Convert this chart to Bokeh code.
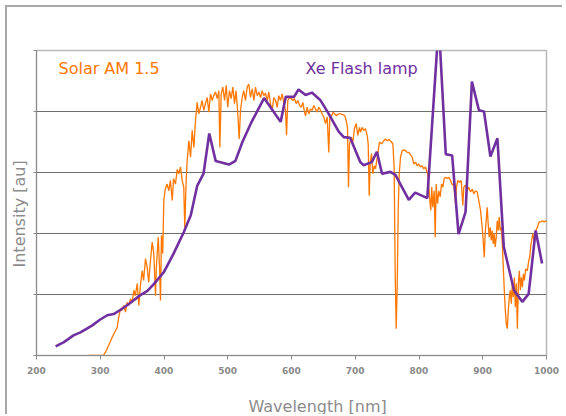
from bokeh.plotting import figure
from bokeh.models import Label, FixedTicker, Range1d, Title, LinearAxis
from bokeh.embed import file_html
from bokeh.resources import INLINE

# ---- data ----
solar_nm = [282, 305, 308, 313, 318.7, 324, 326.6, 329, 331.8, 334, 337, 339.6, 342, 344.8, 347.5, 350,
            352.6, 355, 358, 360.5, 363, 365.8, 368, 371, 373.6, 376, 378.8, 381.5, 384, 386.7, 388, 391,
            393, 394.5, 396, 398, 399.7, 402, 405, 407.5, 410, 412.9, 415, 418, 420.7, 423, 425.9, 428.5,
            431, 432.6, 434.8, 436.4, 439, 441.6, 444.2, 446.8, 449.4, 452, 454.6, 457.3, 459.9, 462.4,
            465, 467.8, 470.3, 473, 475.6, 478, 480.8, 483.5, 486, 487.6, 489.7, 492.3, 495, 497.6, 500,
            502.7, 505.4, 508, 510.6, 513, 515.8, 518, 520, 522.7, 525.2, 527.8, 530.5, 533, 535.7, 538.4,
            541, 543.5, 546.2, 548.7, 551.4, 554, 556.6, 559.2, 562, 564.4, 567, 569.7, 572.2, 575, 577.6,
            580, 582.7, 585.4, 588, 590.6, 592.2, 594.2, 596.9, 599.5, 602, 604.7, 607.4, 610, 612.5,
            615.2, 617.8, 620.4, 622, 624.6, 627.1, 629.8, 632.5, 635, 637.6, 640.3, 642.8, 645.5, 648.2,
            650.7, 653.3, 656, 658.5, 660, 662.7, 665.4, 668, 670.6, 673.3, 676.9, 680.5, 683.6, 685.8,
            687.8, 689.4, 691, 693.6, 696.2, 698.8, 701.5, 704, 706.7, 708.2, 710.9, 713.4, 716, 718.7,
            720.3, 721.9, 723.4, 725.5, 727.6, 729.7, 731.8, 733.8, 736, 738, 741.2, 744.8, 747.5, 750.1,
            752.6, 756.9, 759, 761, 762.6, 764.2, 765.8, 767.4, 769, 771, 773.6, 776.2, 778.8, 781.5, 784,
            789.3, 791.9, 794.5, 797.2, 799.7, 802.4, 805, 807.5, 810.2, 812.9, 814.4, 816.5, 818.5, 820,
            821.6, 823.8, 825.4, 827, 829, 831.1, 833.2, 835.3, 837.4, 839.5, 841.6, 844.2, 846.8, 849.4,
            852, 854.6, 857.3, 858.8, 860.9, 863.5, 866.2, 868.7, 870.3, 873, 875.6, 878.1, 880.8, 883.5,
            886, 888.6, 891.3, 893.8, 896.5, 899.1, 900.7, 902.3, 903.8, 905.4, 907, 908.5, 910.1, 911.7,
            913.3, 914.8, 916.4, 918, 919.5, 921.2, 922.7, 924.3, 925.9, 927.5, 929, 930.7, 932.2, 933.8,
            935.4, 937, 938.5, 940.1, 941.7, 943.2, 944.8, 946.4, 948, 949.6, 951.1, 952.7, 954.3, 955.9,
            957.4, 959, 960.6, 962.2, 963.8, 965.3, 967.4, 970, 972.2, 973.7, 975.3, 976.9, 978.4, 980.5,
            983.2, 985.8, 988.4, 991, 993.7, 996.3, 998.9, 1001]
solar_val = [0, 0, 0.05, 0.16, 0.30, 0.41, 0.46, 0.63, 0.77, 0.74, 0.82, 0.71, 0.87, 0.82, 0.93, 0.87,
             1.07, 0.98, 1.18, 0.82, 1.15, 1.39, 1.23, 1.59, 1.45, 1.20, 1.56, 1.86, 1.67, 0.98, 1.45, 1.94,
             1.45, 0.90, 1.97, 1.67, 2.54, 2.73, 2.81, 2.70, 2.87, 2.54, 2.90, 2.81, 3.05, 2.98, 3.09, 2.87,
             2.76, 2.10, 2.87, 3.20, 3.52, 3.25, 3.69, 3.41, 3.85, 4.15, 3.96, 4.07, 4.18, 4.02,
             4.13, 4.23, 3.99, 4.29, 4.18, 4.26, 4.32, 4.21, 4.34, 3.41, 4.29, 4.40, 4.18, 4.43, 4.07,
             4.34, 4.21, 4.40, 4.13, 4.34, 3.96, 3.55, 4.02, 4.23, 4.34, 4.18, 4.40, 4.45, 4.23, 4.37,
             4.18, 4.40, 4.26, 4.32, 4.23, 4.34, 4.26, 4.30, 4.18, 4.32, 4.13, 4.02, 4.23, 4.18, 4.07,
             4.26, 4.18, 4.29, 4.13, 4.02, 3.61, 4.18, 4.23, 4.21, 4.18, 4.21, 4.13, 4.18, 4.10,
             4.07, 4.15, 3.99, 3.93, 4.07, 3.96, 4.04, 4.02, 4.10, 4.04, 3.99, 4.07, 4.02, 3.96,
             3.91, 3.80, 3.91, 3.33, 3.88, 3.93, 3.99, 3.96, 3.93, 3.96, 3.96, 3.95, 3.93, 3.85,
             3.74, 2.76, 3.47, 3.58, 3.50, 3.72, 3.80, 3.61, 3.74, 3.66, 3.74, 3.69, 3.72, 3.61,
             3.47, 2.62, 3.14, 3.31, 2.98, 3.11, 3.06, 3.20, 3.36, 3.50, 3.47, 3.52, 3.55, 3.52,
             3.54, 3.50, 3.47, 3.09, 1.39, 0.44, 1.12, 2.38, 2.98, 3.25, 3.36, 3.37, 3.36, 3.33, 3.33,
             3.25, 3.14, 3.17, 3.11, 3.14, 3.09, 3.11, 3.06, 3.09, 3.00, 2.92, 2.60, 2.38, 2.76,
             2.43, 2.70, 1.94, 2.81, 2.49, 2.70, 2.60, 2.81, 2.76, 2.90, 2.92, 2.90, 2.92, 2.87,
             2.80, 2.81, 2.49, 2.76, 2.87, 2.84, 2.87, 2.46, 2.76, 2.79, 2.70, 2.76, 2.68, 2.73,
             2.65, 2.70, 2.68, 2.54, 2.38, 2.10, 1.89, 1.61, 2.00, 2.21, 2.43, 2.16, 1.94, 2.10,
             1.89, 2.05, 1.83, 2.00, 1.78, 1.94, 2.21, 2.05, 2.27, 2.05, 2.10, 1.83, 1.45, 1.07,
             0.74, 0.52, 0.44, 0.74, 0.96, 1.07, 0.85, 1.18, 0.96, 1.28, 0.79, 1.18, 0.44, 1.18,
             1.39, 1.07, 1.28, 1.12, 1.34, 1.23, 1.42, 1.39, 1.56, 1.61, 1.80, 1.89, 2.00, 1.89,
             2.05, 2.10, 2.19, 2.19, 2.21, 2.19, 2.21, 2.19]

xe_nm = [230, 243, 258, 269, 287, 300, 311, 321, 332, 347, 363, 374, 384, 400, 415, 431, 442, 452,
         462, 471, 481, 502, 512, 523, 536, 557, 583, 591, 604, 611, 622, 632, 645, 658, 674, 682,
         692, 708, 713, 726, 734, 742, 755, 763, 784, 794, 813, 831, 842, 852, 862, 873, 883, 894,
         902, 912, 923, 933, 949, 962, 972, 983, 993]
xe_val = [0.15, 0.22, 0.33, 0.38, 0.49, 0.59, 0.66, 0.68, 0.75, 0.86, 0.99, 1.06, 1.17, 1.37, 1.67,
          2.02, 2.30, 2.78, 2.98, 3.64, 3.19, 3.13, 3.19, 3.50, 3.80, 4.22, 3.83, 4.24, 4.24, 4.36,
          4.27, 4.31, 4.19, 3.97, 3.67, 3.58, 3.57, 3.17, 3.12, 3.17, 3.34, 2.98, 3.01, 2.96, 2.55,
          2.67, 2.58, 5.45, 3.30, 3.28, 1.99, 2.35, 4.49, 4.02, 4.00, 3.26, 3.56, 1.78, 1.07, 0.88,
          1.01, 2.05, 1.51]

x_ticks = [200, 300, 400, 500, 600, 700, 800, 900, 1000]
y_ticks = [0, 1, 2, 3, 4, 5]
grid_lines = [1, 2, 3, 4]

series_names = ["Solar AM 1.5", "Xe Flash lamp"]
x_title = "Wavelength [nm]"
y_title = "Intensity [au]"

ORANGE = "#FF7700"
PURPLE = "#7030A0"
GRAY = "#8a8a8a"
FONT = "DejaVu Sans"

p = figure(width=557, height=409, output_backend="svg", toolbar_location=None,
           x_range=Range1d(200, 1000), y_range=Range1d(0, 5), title=None,
           min_border_left=29, min_border_right=18, min_border_top=43, min_border_bottom=61)
p.styles = {"margin-left": "5px", "margin-top": "5px",
            "border-left": "2px solid #a8a8a8", "border-top": "2px solid #a8a8a8"}
p.background_fill_color = "white"
p.border_fill_color = "white"
p.outline_line_color = "#b8b8b8"
p.outline_line_width = 1.5

p.xgrid.visible = False
p.ygrid.ticker = FixedTicker(ticks=grid_lines)
p.ygrid.grid_line_color = "#6e6e6e"
p.ygrid.grid_line_width = 1

p.xaxis.ticker = FixedTicker(ticks=x_ticks)
p.xaxis.minor_tick_line_color = None
p.xaxis.major_tick_in = 0
p.xaxis.major_tick_out = 4
p.xaxis.axis_line_color = GRAY
p.xaxis.major_tick_line_color = GRAY
p.xaxis.major_label_text_font = FONT
p.xaxis.major_label_text_font_style = "bold"
p.xaxis.major_label_text_font_size = "9px"
p.xaxis.major_label_text_color = "#8a8a8a"
p.xaxis.major_label_standoff = 7

p.yaxis.ticker = FixedTicker(ticks=y_ticks)
p.yaxis.minor_tick_line_color = None
p.yaxis.major_tick_in = 0
p.yaxis.major_tick_out = 3
p.yaxis.axis_line_color = GRAY
p.yaxis.major_tick_line_color = GRAY
p.yaxis.major_label_overrides = {t: "" for t in y_ticks}
p.yaxis.major_label_standoff = 0

p.line(solar_nm, solar_val, line_color=ORANGE, line_width=1.3)
p.line(xe_nm, xe_val, line_color=PURPLE, line_width=2.6)

p.add_layout(Label(x=234.5, y=4.70, text=series_names[0], text_color=ORANGE,
                   text_font=FONT, text_font_size="16px", text_baseline="middle"))
p.add_layout(Label(x=622, y=4.70, text=series_names[1], text_color=PURPLE,
                   text_font=FONT, text_font_size="16px", text_baseline="middle"))

# invisible spacer axis below the x axis, so the x title sits low like the reference
spacer = LinearAxis(ticker=FixedTicker(ticks=[600]), axis_line_color=None,
                    major_tick_line_color=None, minor_tick_line_color=None,
                    major_tick_out=17, major_tick_in=0, major_label_standoff=0,
                    major_label_overrides={600: ""})
p.add_layout(spacer, "below")

p.add_layout(Title(text=x_title, align="left", offset=212, standoff=2, vertical_align="bottom",
                   text_color="#8c8c8c", text_font=FONT, text_font_size="16px",
                   text_font_style="normal"), "below")
p.add_layout(Title(text=y_title, align="left", offset=88, standoff=5, vertical_align="top",
                   text_color="#8c8c8c", text_font=FONT, text_font_size="16px",
                   text_font_style="normal"), "left")

open("out.html", "w").write(file_html(p, INLINE))
